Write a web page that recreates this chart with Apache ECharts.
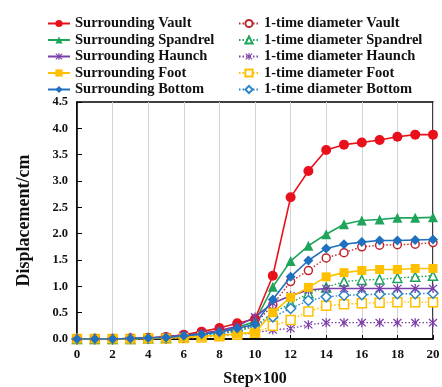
<!DOCTYPE html>
<html>
<head>
<meta charset="utf-8">
<script src="https://cdn.jsdelivr.net/npm/echarts@6/dist/echarts.min.js"></script>
<style>
  html, body { margin: 0; padding: 0; background: #fff; }
  #chart { width: 442px; height: 387px; }
</style>
</head>
<body>
<div id="chart"></div>
<script>
// Load steps (x100)
const steps = [0,1,2,3,4,5,6,7,8,9,10,11,12,13,14,15,16,17,18,19,20];

// Displacement (cm) – surrounding rock
const surroundingVault    = [0,0,0,0.01,0.02,0.04,0.08,0.14,0.21,0.30,0.38,1.20,2.69,3.19,3.59,3.69,3.73,3.78,3.84,3.88,3.88];
const surroundingSpandrel = [0,0,0,0.01,0.02,0.03,0.06,0.10,0.15,0.22,0.33,0.99,1.48,1.77,1.99,2.18,2.25,2.27,2.30,2.30,2.31];
const surroundingHaunch   = [0,0,0,0.01,0.02,0.04,0.07,0.11,0.16,0.24,0.42,0.68,0.82,0.93,0.96,0.96,0.96,0.96,0.96,0.96,0.96];
const surroundingFoot     = [0,0,0,0,0.01,0.02,0.03,0.05,0.07,0.10,0.13,0.50,0.79,0.98,1.18,1.26,1.30,1.32,1.32,1.34,1.34];
const surroundingBottom   = [0,0,0,0.01,0.02,0.03,0.06,0.09,0.13,0.20,0.28,0.75,1.18,1.49,1.72,1.80,1.84,1.87,1.87,1.88,1.89];

// Displacement (cm) – 1-time diameter
const diameterVault    = [0,0,0,0.01,0.02,0.03,0.05,0.08,0.12,0.18,0.28,0.65,1.09,1.30,1.54,1.64,1.75,1.78,1.79,1.80,1.83];
const diameterSpandrel = [0,0,0,0,0.01,0.02,0.04,0.07,0.10,0.15,0.25,0.49,0.68,0.87,0.98,1.09,1.12,1.13,1.16,1.18,1.20];
const diameterHaunch   = [0,0,0,0,0.01,0.01,0.02,0.04,0.06,0.08,0.12,0.17,0.20,0.27,0.31,0.31,0.31,0.31,0.31,0.31,0.31];
const diameterFoot     = [0,0,0,0,0.01,0.01,0.02,0.03,0.05,0.08,0.12,0.25,0.36,0.52,0.63,0.66,0.68,0.69,0.70,0.70,0.70];
const diameterBottom   = [0,0,0,0.01,0.01,0.02,0.04,0.07,0.10,0.15,0.24,0.42,0.58,0.73,0.80,0.83,0.84,0.85,0.86,0.86,0.87];

const yTicks = [0,0.5,1,1.5,2,2.5,3,3.5,4,4.5];
const xTicks = [0,2,4,6,8,10,12,14,16,18,20];

const serif = "'Times New Roman', 'Liberation Serif', serif";

// Asterisk marker: vertical bar plus two diagonals
const asterisk = 'path://M-1.3,-10L1.3,-10L1.3,10L-1.3,10Z' +
  'M-9,-7.2L-7.2,-9L9,7.2L7.2,9Z' +
  'M7.2,-9L9,-7.2L-7.2,9L-9,7.2Z';

const RED = '#e8101a', GREEN = '#1fa45c', PURPLE = '#7b3fa8', YELLOW = '#ffc000', BLUE = '#1f70c0';
const DRED = '#c0262d';

function pair(arr) { return arr.map((v, i) => [steps[i], v]); }

function solid(name, data, color, symbol, size) {
  return {
    name, type: 'line', data: pair(data), symbol, symbolSize: size,
    lineStyle: { color, width: 1.6 },
    itemStyle: { color, borderColor: color, borderWidth: 0 },
    z: 5
  };
}
function hollow(name, data, color, symbol, size, fillSolid) {
  return {
    name, type: 'line', data: pair(data), symbol, symbolSize: size,
    lineStyle: { color, width: 1.4, type: [1.5, 2] },
    itemStyle: { color: fillSolid ? color : '#fff', borderColor: color, borderWidth: fillSolid ? 0 : 1.5 },
    z: 4
  };
}

const series = [
  solid('Surrounding Vault', surroundingVault, RED, 'circle', 10),
  solid('Surrounding Spandrel', surroundingSpandrel, GREEN, 'triangle', 10),
  solid('Surrounding Haunch', surroundingHaunch, PURPLE, asterisk, 9),
  solid('Surrounding Foot', surroundingFoot, YELLOW, 'rect', 9),
  solid('Surrounding Bottom', surroundingBottom, BLUE, 'diamond', 10),
  hollow('1-time diameter Vault', diameterVault, DRED, 'circle', 8),
  hollow('1-time diameter Spandrel', diameterSpandrel, GREEN, 'triangle', 9),
  hollow('1-time diameter Haunch', diameterHaunch, PURPLE, asterisk, 9, true),
  hollow('1-time diameter Foot', diameterFoot, YELLOW, 'rect', 9),
  hollow('1-time diameter Bottom', diameterBottom, '#2a86c8', 'diamond', 10)
];

const legendText = { fontFamily: serif, fontWeight: 'bold', fontSize: 14.5, color: '#111', lineHeight: 15 };

const chart = echarts.init(document.getElementById('chart'), null, { renderer: 'canvas' });
chart.setOption({
  animation: false,
  backgroundColor: '#fff',
  legend: [
    {
      orient: 'vertical', left: 42, top: 11, itemGap: 1.5, itemWidth: 22, itemHeight: 9,
      textStyle: legendText,
      data: series.slice(0, 5).map(s => s.name)
    },
    {
      orient: 'vertical', left: 233, top: 11, itemGap: 1.5, itemWidth: 20, itemHeight: 9,
      textStyle: legendText,
      data: series.slice(5).map(s => s.name)
    }
  ],
  grid: {
    left: 77, right: 9, top: 102, bottom: 48,
    outerBoundsMode: 'none',
    show: true, borderColor: '#000', borderWidth: 1.5, backgroundColor: 'transparent'
  },
  xAxis: {
    type: 'value', min: 0, max: 20, interval: 2,
    name: 'Step×100', nameLocation: 'middle', nameGap: 32,
    nameTextStyle: { fontFamily: serif, fontWeight: 'bold', fontSize: 16, color: '#111' },
    axisLine: { lineStyle: { color: '#000', width: 1.5 } },
    axisTick: { inside: true, length: 4, lineStyle: { color: '#000' } },
    axisLabel: {
      margin: 9, fontFamily: serif, fontWeight: 'bold', fontSize: 13, color: '#111',
      formatter: v => xTicks.includes(v) ? String(v) : ''
    },
    splitLine: { show: true, lineStyle: { color: '#d4d4d4', width: 1 } }
  },
  yAxis: {
    type: 'value', min: 0, max: 4.5, interval: 0.5,
    name: 'Displacement/cm', nameLocation: 'middle', nameGap: 44,
    nameTextStyle: { fontFamily: serif, fontWeight: 'bold', fontSize: 18, color: '#111' },
    axisLine: { show: true, lineStyle: { color: '#000', width: 1.5 } },
    axisTick: { show: true, inside: true, length: 5, lineStyle: { color: '#000' } },
    axisLabel: {
      margin: 9, fontFamily: serif, fontWeight: 'bold', fontSize: 12.5, color: '#111',
      formatter: v => yTicks.includes(+v.toFixed(1)) ? v.toFixed(1) : ''
    },
    splitLine: { show: false }
  },
  series
});
</script>
</body>
</html>
